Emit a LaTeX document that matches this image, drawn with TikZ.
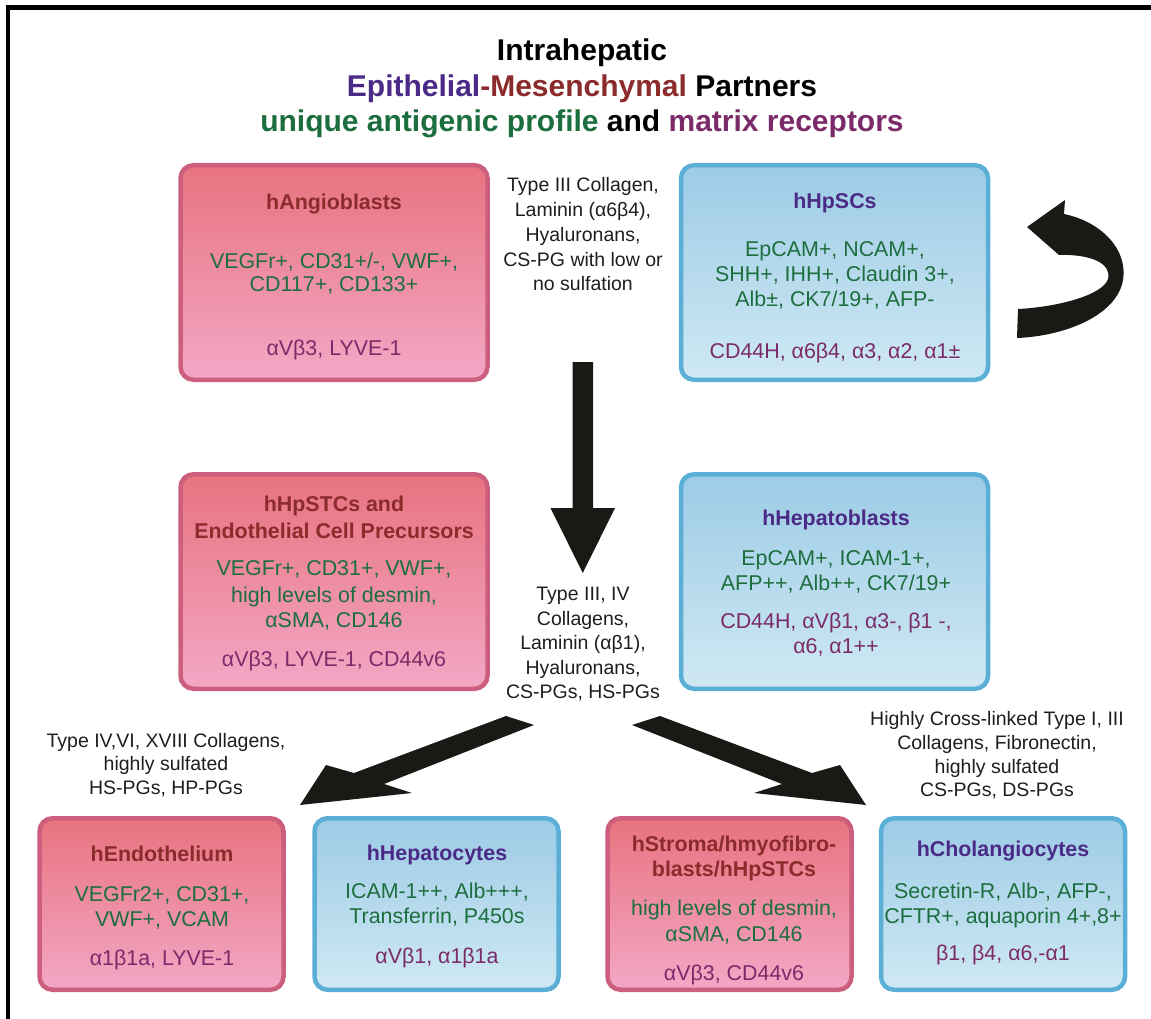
\documentclass[tikz,border=0pt]{standalone}
\usepackage{fontspec}
\setmainfont{Liberation Sans}
\definecolor{pinktop}{HTML}{E8737F}
\definecolor{pinkbot}{HTML}{F3A7C6}
\definecolor{pinkline}{HTML}{CC5F7E}
\definecolor{bluetop}{HTML}{9DCBE6}
\definecolor{bluebot}{HTML}{CFE9F3}
\definecolor{blueline}{HTML}{5BAED6}
\definecolor{redtxt}{HTML}{8B2B2B}
\definecolor{indtxt}{HTML}{4A2A86}
\definecolor{grntxt}{HTML}{1D6E3E}
\definecolor{purtxt}{HTML}{7B2B69}
\definecolor{arrowblk}{HTML}{1B1915}
\definecolor{labtxt}{HTML}{1E1E1E}
\tikzset{
  cellbox/.style={rectangle, rounded corners=13pt, line width=4.5pt, inner sep=0pt},
  pinkbox/.style={cellbox, draw=pinkline, top color=pinktop, bottom color=pinkbot},
  bluebox/.style={cellbox, draw=blueline, top color=bluetop, bottom color=bluebot},
  bigbox/.style={minimum width=307pt, minimum height=214.5pt},
  smallbox/.style={minimum width=244pt, minimum height=171.5pt},
  ln/.style={anchor=base, inner sep=0pt},
  ttl/.style={ln, font=\fontsize{21.4}{24}\selectfont\bfseries},
  bod/.style={ln, font=\fontsize{21.4}{24}\selectfont},
  grn/.style={bod, text=grntxt},
  pur/.style={bod, text=purtxt},
  lab/.style={ln, font=\fontsize{19.5}{24}\selectfont, text=labtxt},
  maintitle/.style={ln, font=\fontsize{30}{36}\selectfont\bfseries, text=black},
  blockarrow/.style={fill=arrowblk, draw=none},
}
\begin{document}
\begin{tikzpicture}[x=1pt,y=-1pt]
\useasboundingbox[fill=white] (0,0) rectangle (1151,1019);
% frame
\draw[line width=4.5pt, black] (8,1019) -- (8,7.5) -- (1151,7.5);

% title
\node[maintitle] (t1) at (582,61) {Intrahepatic};
\node[maintitle] (t2) at (582,97) {\textcolor{indtxt}{Epithelial}\textcolor{redtxt}{-Mesenchymal} Partners};
\node[maintitle] (t3) at (582,132) {\textcolor{grntxt}{unique antigenic profile} and \textcolor{purtxt}{matrix receptors}};

% boxes
\node[pinkbox, bigbox] (angio) at (334,272.5) {};
\node[bluebox, bigbox] (hpsc) at (834.5,272.5) {};
\node[pinkbox, bigbox] (hpstc) at (334,581.5) {};
\node[bluebox, bigbox] (hepb) at (834.5,581.5) {};
\node[pinkbox, smallbox] (endo) at (161.5,904) {};
\node[bluebox, smallbox] (hepc) at (436.5,904) {};
\node[pinkbox, smallbox] (strom) at (729.5,904) {};
\node[bluebox, smallbox] (chol) at (1003,904) {};

% hAngioblasts
\node[ttl, text=redtxt] (angio1) at (334,210) {hAngioblasts};
\node[grn] (angio2) at (334,268) {VEGFr+, CD31+/-, VWF+,};
\node[grn] (angio3) at (334,291) {CD117+, CD133+};
\node[pur] (angio4) at (334,355) {αVβ3, LYVE-1};

% hHpSCs
\node[ttl, text=indtxt] (hpsc1) at (835,208) {hHpSCs};
\node[grn] (hpsc2) at (835,256) {EpCAM+, NCAM+,};
\node[grn] (hpsc3) at (835,281) {SHH+, IHH+, Claudin 3+,};
\node[grn] (hpsc4) at (835,306) {Alb±, CK7/19+, AFP-};
\node[pur] (hpsc5) at (835,358) {CD44H, α6β4, α3, α2, α1±};

% hHpSTCs
\node[ttl, text=redtxt] (hpstc1) at (334,511) {hHpSTCs and};
\node[ttl, text=redtxt] (hpstc2) at (334,538) {Endothelial Cell Precursors};
\node[grn] (hpstc3) at (334,575) {VEGFr+, CD31+, VWF+,};
\node[grn] (hpstc4) at (334,602) {high levels of desmin,};
\node[grn] (hpstc5) at (334,627) {αSMA, CD146};
\node[pur] (hpstc6) at (334,666) {αVβ3, LYVE-1, CD44v6};

% hHepatoblasts
\node[ttl, text=indtxt] (hepb1) at (836,525) {hHepatoblasts};
\node[grn] (hepb2) at (836,565) {EpCAM+, ICAM-1+,};
\node[grn] (hepb3) at (836,590) {AFP++, Alb++, CK7/19+};
\node[pur] (hepb4) at (836,628) {CD44H, αVβ1, α3-, β1 -,};
\node[pur] (hepb5) at (836,653) {α6, α1++};

% hEndothelium
\node[ttl, text=redtxt] (endo1) at (162,861) {hEndothelium};
\node[grn] (endo2) at (162,901) {VEGFr2+, CD31+,};
\node[grn] (endo3) at (162,926) {VWF+, VCAM};
\node[pur] (endo4) at (162,965) {α1β1a, LYVE-1};

% hHepatocytes
\node[ttl, text=indtxt] (hepc1) at (437,860) {hHepatocytes};
\node[grn] (hepc2) at (437,898) {ICAM-1++, Alb+++,};
\node[grn] (hepc3) at (437,923) {Transferrin, P450s};
\node[pur] (hepc4) at (437,963) {αVβ1, α1β1a};

% hStroma
\node[ttl, text=redtxt] (strom1) at (734,851) {hStroma/hmyofibro-};
\node[ttl, text=redtxt] (strom2) at (734,876) {blasts/hHpSTCs};
\node[grn] (strom3) at (734,915) {high levels of desmin,};
\node[grn] (strom4) at (734,941) {αSMA, CD146};
\node[pur] (strom5) at (734,980) {αVβ3, CD44v6};

% hCholangiocytes
\node[ttl, text=indtxt] (chol1) at (1003,856) {hCholangiocytes};
\node[grn] (chol2) at (1003,898) {Secretin-R, Alb-, AFP-,};
\node[grn] (chol3) at (1003,923) {CFTR+, aquaporin 4+,8+};
\node[pur] (chol4) at (1003,960) {β1, β4, α6,-α1};

% matrix labels
\node[lab] (la1) at (583,192) {Type III Collagen,};
\node[lab] (la2) at (583,217) {Laminin (α6β4),};
\node[lab] (la3) at (583,241) {Hyaluronans,};
\node[lab] (la4) at (583,266) {CS-PG with low or};
\node[lab] (la5) at (583,290) {no sulfation};

\node[lab] (lb1) at (583,600) {Type III, IV};
\node[lab] (lb2) at (583,625) {Collagens,};
\node[lab] (lb3) at (583,649) {Laminin (αβ1),};
\node[lab] (lb4) at (583,674) {Hyaluronans,};
\node[lab] (lb5) at (583,698) {CS-PGs, HS-PGs};

\node[lab] (lc1) at (166,747) {Type IV,VI, XVIII Collagens,};
\node[lab] (lc2) at (166,770) {highly sulfated};
\node[lab] (lc3) at (166,794) {HS-PGs, HP-PGs};

\node[lab] (ld1) at (997,725) {Highly Cross-linked Type I, III};
\node[lab] (ld2) at (997,749) {Collagens, Fibronectin,};
\node[lab] (ld3) at (997,773) {highly sulfated};
\node[lab] (ld4) at (997,796) {CS-PGs, DS-PGs};

% block arrows
\fill[blockarrow] (572.5,362) -- (593,362) -- (593,508) -- (615,508) -- (582.75,573) -- (550.5,508) -- (572.5,508) -- cycle;
\fill[blockarrow] (300,805) -- (326,765) -- (354,773) -- (506,716) -- (534,725) -- (384,784) -- (412,793) -- cycle;
\fill[blockarrow] (866,805) -- (840,765) -- (812,773) -- (660,716) -- (632,725) -- (782,784) -- (754,793) -- cycle;
% self-renewal curved arrow
\fill[blockarrow] (1027,227) -- (1065,200) -- (1064,214)
  .. controls (1102,222) and (1128,250) .. (1123,280)
  .. controls (1117,315) and (1066,336) .. (1017,338)
  -- (1018,309)
  .. controls (1058,307) and (1103,295) .. (1108,279)
  .. controls (1112,264) and (1092,254) .. (1059,255) -- cycle;
\end{tikzpicture}
\end{document}
